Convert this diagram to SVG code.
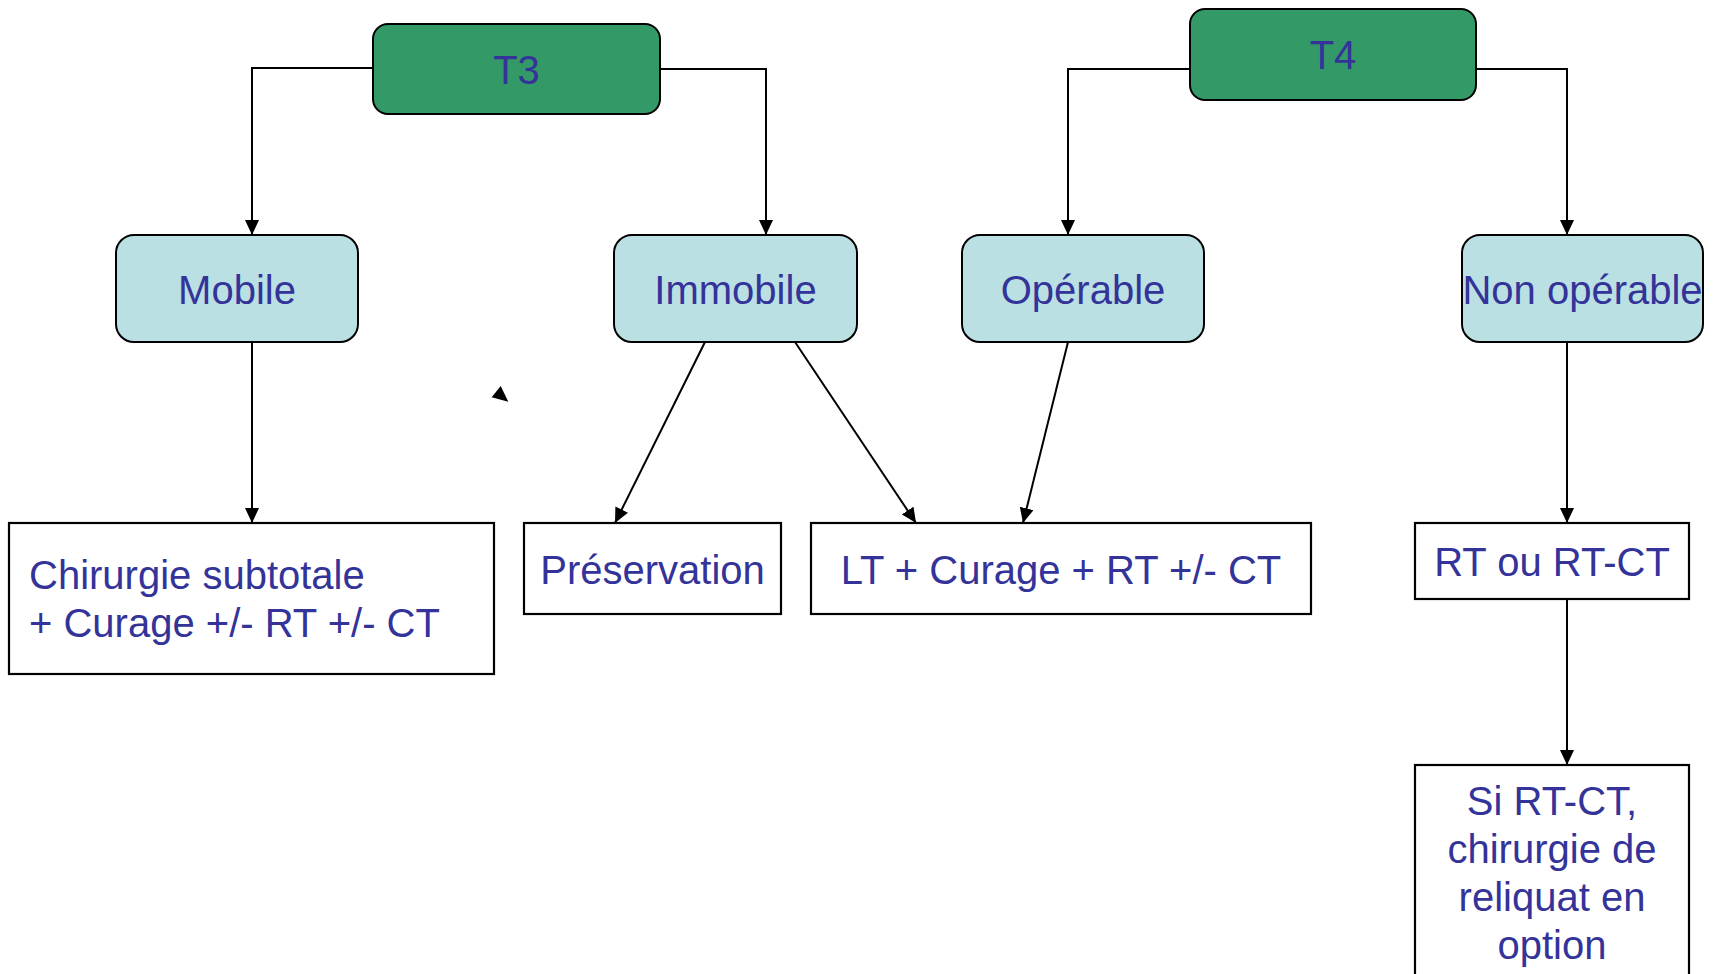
<svg xmlns="http://www.w3.org/2000/svg" width="1716" height="974" viewBox="0 0 1716 974">
  <defs>
    <marker id="arrow" viewBox="0 0 15 14" refX="15" refY="7" markerWidth="15" markerHeight="14" markerUnits="userSpaceOnUse" orient="auto">
      <path d="M0,0 L15,7 L0,14 Z" fill="#000"/>
    </marker>
    <style>
      .stage { fill: #339966; stroke: #000; stroke-width: 2; }
      .branch { fill: #BAE0E3; stroke: #000; stroke-width: 2; }
      .result { fill: #FFFFFF; stroke: #000; stroke-width: 2.2; }
      .lbl { font-family: "Liberation Sans", Arial, sans-serif; font-size: 40px; fill: #333399; }
      .mid { text-anchor: middle; }
      .edge { fill: none; stroke: #000; stroke-width: 2; marker-end: url(#arrow); }
    </style>
  </defs>
  <rect width="1716" height="974" fill="#FFFFFF"/>

  <!-- connectors -->
  <g id="connectors">
    <polyline class="edge" points="373,68 252,68 252,235"/>
    <polyline class="edge" points="660,69 766,69 766,235"/>
    <polyline class="edge" points="1190,69 1068,69 1068,235"/>
    <polyline class="edge" points="1476,69 1567,69 1567,235"/>
    <line class="edge" x1="252" y1="342" x2="252" y2="523"/>
    <line class="edge" x1="705" y1="342" x2="615" y2="523"/>
    <line class="edge" x1="795" y1="342" x2="916" y2="523"/>
    <line class="edge" x1="1068" y1="342" x2="1023" y2="523"/>
    <line class="edge" x1="1567" y1="342" x2="1567" y2="523"/>
    <line class="edge" x1="1567" y1="599" x2="1567" y2="765"/>
    <!-- loose arrowhead -->
    <polygon points="500.7,386 491.7,397.3 508.3,401.7" fill="#000"/>
  </g>

  <!-- stage nodes -->
  <g id="node-t3">
    <rect class="stage" x="373" y="24" width="287" height="90" rx="15"/>
    <text class="lbl mid" x="516.5" y="84">T3</text>
  </g>
  <g id="node-t4">
    <rect class="stage" x="1190" y="9" width="286" height="91" rx="15"/>
    <text class="lbl mid" x="1333" y="69">T4</text>
  </g>

  <!-- branch nodes -->
  <g id="node-mobile">
    <rect class="branch" x="116" y="235" width="242" height="107" rx="18"/>
    <text class="lbl mid" x="237" y="304">Mobile</text>
  </g>
  <g id="node-immobile">
    <rect class="branch" x="614" y="235" width="243" height="107" rx="18"/>
    <text class="lbl mid" x="735.5" y="304">Immobile</text>
  </g>
  <g id="node-operable">
    <rect class="branch" x="962" y="235" width="242" height="107" rx="18"/>
    <text class="lbl mid" x="1083" y="304">Opérable</text>
  </g>
  <g id="node-non-operable">
    <rect class="branch" x="1462" y="235" width="241" height="107" rx="18"/>
    <text class="lbl mid" x="1582.5" y="304">Non opérable</text>
  </g>

  <!-- treatment nodes -->
  <g id="node-chirurgie">
    <rect class="result" x="9" y="523" width="485" height="151"/>
    <text class="lbl" x="29" y="589">Chirurgie subtotale</text>
    <text class="lbl" x="29" y="637">+ Curage +/- RT +/- CT</text>
  </g>
  <g id="node-preservation">
    <rect class="result" x="524" y="523" width="257" height="91"/>
    <text class="lbl mid" x="652.5" y="584">Préservation</text>
  </g>
  <g id="node-lt">
    <rect class="result" x="811" y="523" width="500" height="91"/>
    <text class="lbl mid" x="1061" y="584">LT + Curage + RT +/- CT</text>
  </g>
  <g id="node-rt">
    <rect class="result" x="1415" y="523" width="274" height="76"/>
    <text class="lbl mid" x="1552" y="576">RT ou RT-CT</text>
  </g>
  <g id="node-si-rtct">
    <rect class="result" x="1415" y="765" width="274" height="230"/>
    <text class="lbl mid" x="1552" y="815">Si RT-CT,</text>
    <text class="lbl mid" x="1552" y="863">chirurgie de</text>
    <text class="lbl mid" x="1552" y="911">reliquat en</text>
    <text class="lbl mid" x="1552" y="959">option</text>
  </g>
</svg>
